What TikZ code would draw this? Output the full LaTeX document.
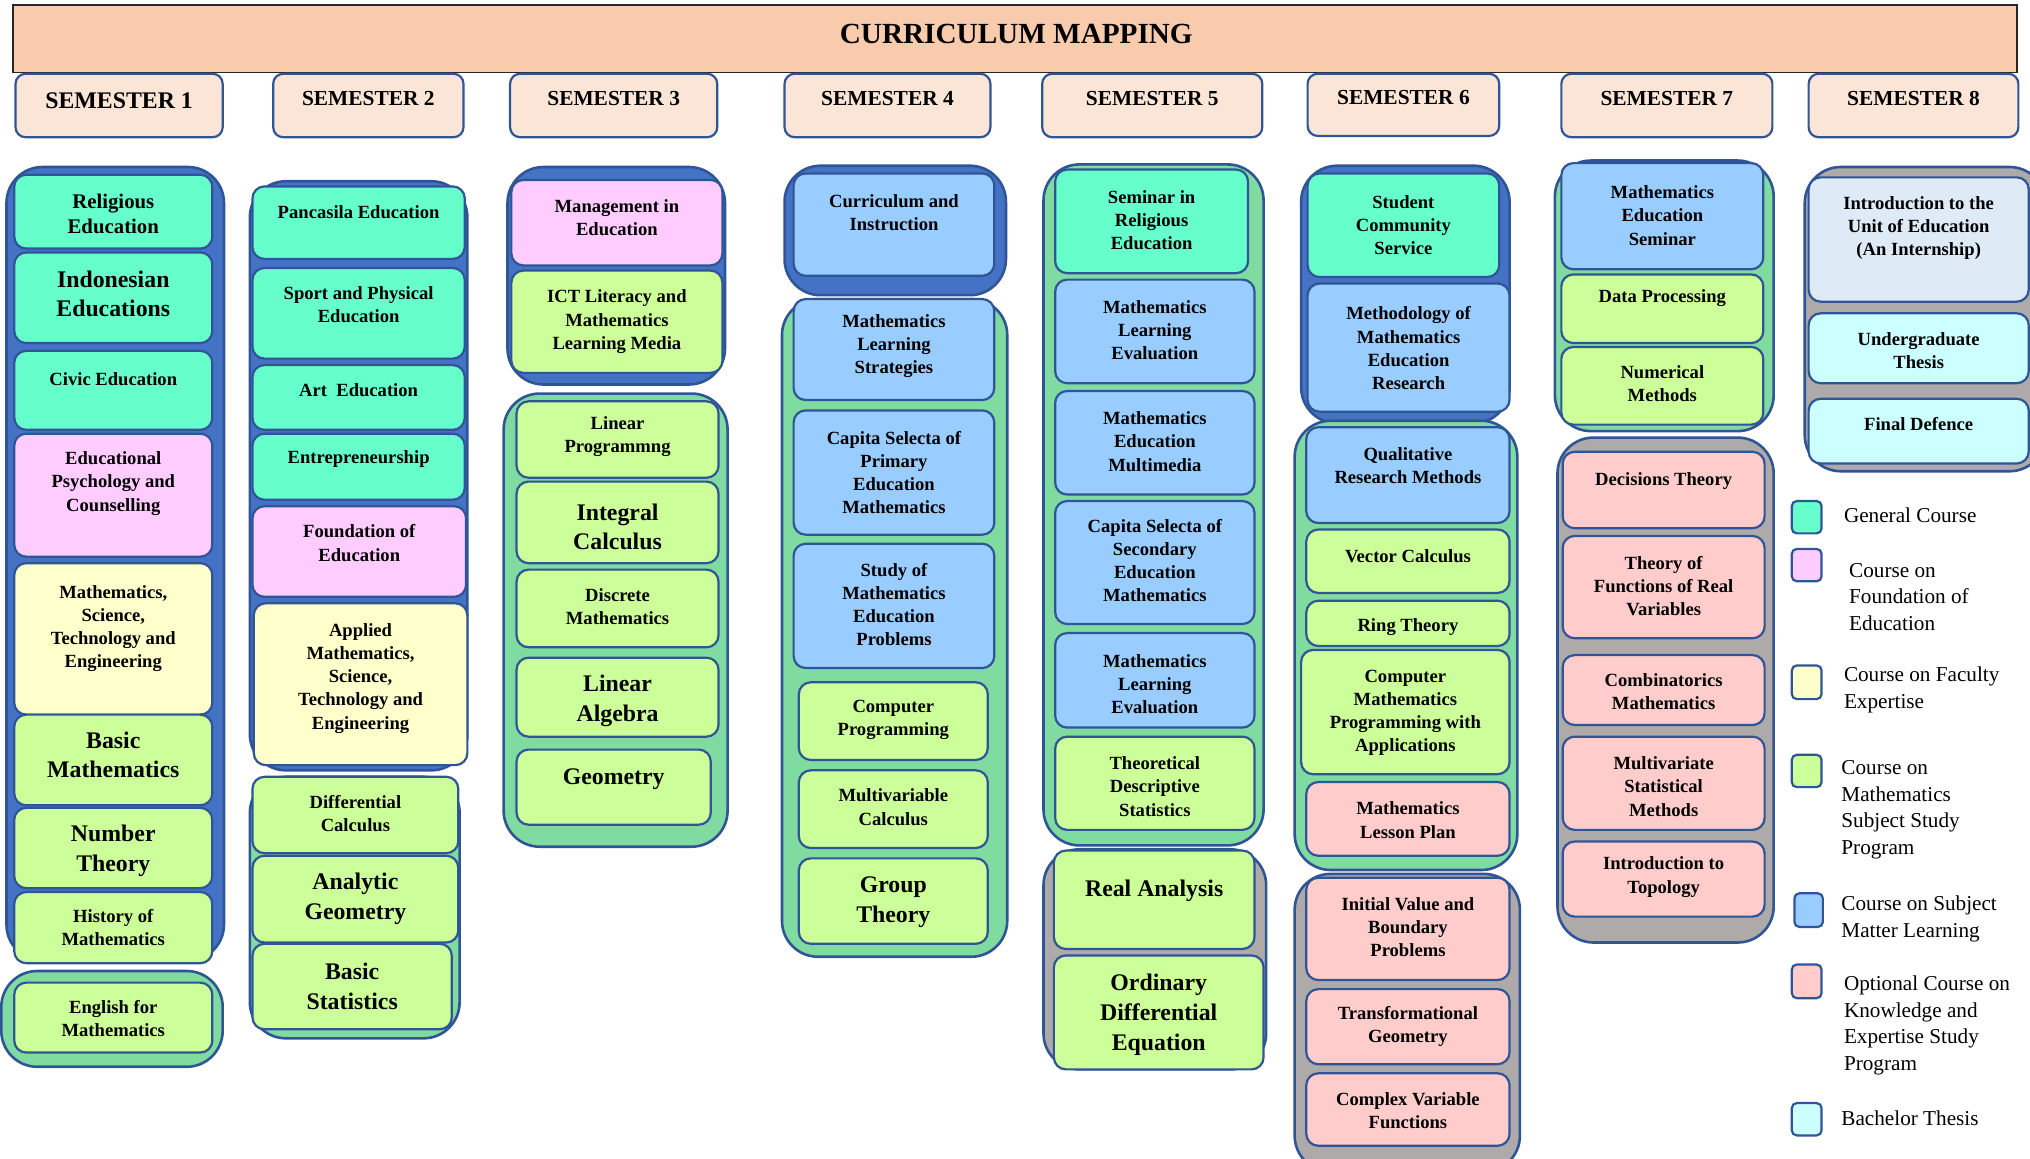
\documentclass[tikz,border=0pt]{standalone}
\usepackage{fontspec}
\setmainfont{Liberation Serif}
\usetikzlibrary{fit}
\definecolor{bord}{HTML}{2F5597}
\definecolor{cblue}{HTML}{4472C4}
\definecolor{cgreen}{HTML}{7FDBA0}
\definecolor{cgray}{HTML}{AEAAAA}
\definecolor{fteal}{HTML}{66FFCC}
\definecolor{fpink}{HTML}{FFCCFF}
\definecolor{fyel}{HTML}{FFFFCC}
\definecolor{fgrn}{HTML}{CCFF99}
\definecolor{fblu}{HTML}{99CCFF}
\definecolor{fsal}{HTML}{FFCCCC}
\definecolor{fcyan}{HTML}{CCFFFF}
\definecolor{fint}{HTML}{DEEBF7}
\definecolor{ftitle}{HTML}{F8CBAD}
\definecolor{fsem}{HTML}{FBE5D6}
\tikzset{
  grp/.style={draw=bord, line width=1.3pt, rounded corners=18pt, inner sep=0pt},
  crsbox/.style={draw=bord, line width=1.1pt, rounded corners=6pt, inner sep=0pt},
  ts/.style={font=\bfseries\fontsize{9.3}{11.6}\selectfont, align=center, inner sep=0pt},
  tm/.style={font=\bfseries\fontsize{10.4}{12.3}\selectfont, align=center, inner sep=0pt},
  tl/.style={font=\bfseries\fontsize{11.9}{14.9}\selectfont, align=center, inner sep=0pt},
  sem/.style={draw=bord, line width=1.1pt, rounded corners=5pt, fill=fsem, inner sep=0pt},
  semtxt/.style={font=\bfseries\fontsize{10.7}{12}\selectfont, inner sep=0pt},
  legsq/.style={draw=bord, line width=1.1pt, rounded corners=2.5pt, inner sep=0pt},
  legtxt/.style={font=\fontsize{10.6}{13.3}\selectfont, align=left, anchor=west, inner sep=0pt},
}
\newcommand\crs[9][ts]{%
  \node[crsbox, fill=#7, fit={(#3,#4) (#5,#6)}] (#2) {};
  \node[#1] (#2t) at ({(#3+#5)/2},#8) {#9};
}
\newcommand\grpbox[6]{%
  \node[grp, fill=#6, fit={(#2,#3) (#4,#5)}] (#1) {};
}
\newcommand\semh[7]{%
  \node[sem, fit={(#2,#3) (#4,#5)}] (#1) {};
  \node[semtxt] (#1t) at ({(#2+#4)/2},#6) {#7};
}
\begin{document}
\begin{tikzpicture}[x=0.6473pt, y=-0.6473pt]
\useasboundingbox (0,0) rectangle (1568,895);
% title
\node[draw=black!85, line width=0.8pt, fill=ftitle, inner sep=0pt, fit={(10,4) (1558,56)}] (title) {};
\node[font=\bfseries\fontsize{14.6}{16}\selectfont, inner sep=0pt] (titlet) at (785,26) {CURRICULUM MAPPING};
% semesters
\semh{s1}{12}{57}{172}{106}{78}{\fontsize{11.9}{13}\selectfont SEMESTER 1}
\semh{s2}{211}{57}{358}{106}{76}{SEMESTER 2}
\semh{s3}{394}{57}{554}{106}{76}{SEMESTER 3}
\semh{s4}{606}{57}{765}{106}{76}{SEMESTER 4}
\semh{s5}{805}{57}{975}{106}{76}{SEMESTER 5}
\semh{s6}{1010}{57}{1158}{105}{75}{SEMESTER 6}
\semh{s7}{1206}{57}{1369}{106}{76}{SEMESTER 7}
\semh{s8}{1397}{57}{1559}{106}{76}{SEMESTER 8}
% semester 1
\grpbox{g1a}{5}{129}{173}{742}{cblue}
\crs[tm]{c11}{11}{135}{164}{192}{fteal}{165}{Religious\\Education}
\crs[tl]{c12}{11}{195}{164}{265}{fteal}{227}{Indonesian\\Educations}
\crs{c13}{11}{271}{164}{332}{fteal}{292.5}{Civic Education}
\crs{c14}{11}{335}{164}{430}{fpink}{373.5}{Educational\\Psychology and\\Counselling}
\crs{c15}{11}{435}{164}{552}{fyel}{485.5}{Mathematics,\\Science,\\Technology and\\Engineering}
\crs[tl]{c16}{11}{552}{164}{622}{fgrn}{583}{Basic\\Mathematics}
\crs[tl]{c17}{11}{624}{164}{686}{fgrn}{657}{Number\\Theory}
\crs{c18}{11}{689}{164}{744}{fgrn}{716.5}{History of\\Mathematics}
\grpbox{g1b}{1}{750}{172}{824}{cgreen}
\crs{c19}{11}{759}{164}{813}{fgrn}{786.5}{English for\\Mathematics}
% semester 2
\grpbox{g2a}{193}{140}{361}{595}{cblue}
\crs{c21}{195}{144}{359}{200}{fteal}{163.5}{Pancasila Education}
\crs{c22}{195}{207}{359}{277}{fteal}{235.5}{Sport and Physical\\Education}
\crs{c23}{195}{282}{359}{332}{fteal}{301.5}{Art\ \ Education}
\crs{c24}{195}{335}{359}{386}{fteal}{354.5}{Entrepreneurship}
\crs{c25}{195}{391}{360}{461}{fpink}{419.5}{Foundation of\\Education}
\crs{c26}{196}{466}{361}{591}{fyel}{524}{Applied\\Mathematics,\\Science,\\Technology and\\Engineering}
\grpbox{g2b}{193}{600}{355}{802}{cgreen}
\crs{c27}{195}{600}{354}{659}{fgrn}{628.5}{Differential\\Calculus}
\crs[tl]{c28}{195}{661}{354}{728}{fgrn}{694}{Analytic\\Geometry}
\crs[tl]{c29}{195}{729}{349}{795}{fgrn}{762}{Basic\\Statistics}
% semester 3
\grpbox{g3a}{392}{129}{560}{297}{cblue}
\crs{c31}{395}{139}{558}{205}{fpink}{168}{Management in\\Education}
\crs{c32}{395}{209}{558}{288}{fgrn}{248.5}{ICT Literacy and\\Mathematics\\Learning Media}
\grpbox{g3b}{389}{304}{562}{654}{cgreen}
\crs{c33}{399}{310}{555}{369}{fgrn}{337.5}{Linear\\Programmng}
\crs[tl]{c34}{399}{372}{555}{435}{fgrn}{407}{Integral\\Calculus}
\crs{c35}{399}{440}{555}{500}{fgrn}{468.5}{Discrete\\Mathematics}
\crs[tl]{c36}{399}{508}{555}{569}{fgrn}{541.5}{Linear\\Algebra}
\crs[tl]{c37}{399}{579}{549}{637}{fgrn}{602}{Geometry}
% semester 4
\grpbox{g4a}{606}{128}{777}{228}{cblue}
\crs{c41}{613}{134}{768}{213}{fblu}{164.5}{Curriculum and\\Instruction}
\grpbox{g4b}{604}{231}{778}{739}{cgreen}
\crs{c42}{613}{231}{768}{309}{fblu}{267.5}{Mathematics\\Learning\\Strategies}
\crs{c43}{613}{317}{768}{413}{fblu}{365}{Capita Selecta of\\Primary\\Education\\Mathematics}
\crs{c44}{613}{420}{768}{516}{fblu}{467}{Study of\\Mathematics\\Education\\Problems}
\crs{c45}{617}{527}{763}{587}{fgrn}{556}{Computer\\Programming}
\crs{c46}{617}{595}{763}{655}{fgrn}{623.5}{Multivariable\\Calculus}
\crs[tl]{c47}{617}{663}{763}{729}{fgrn}{697}{Group\\Theory}
% semester 5
\grpbox{g5a}{806}{127}{976}{653}{cgreen}
\crs{c51}{815}{131}{964}{211}{fteal}{170}{Seminar in\\Religious\\Education}
\crs{c52}{815}{216}{969}{296}{fblu}{255}{Mathematics\\Learning\\Evaluation}
\crs{c53}{815}{302}{969}{382}{fblu}{341}{Mathematics\\Education\\Multimedia}
\crs{c54}{815}{387}{969}{482}{fblu}{433}{Capita Selecta of\\Secondary\\Education\\Mathematics}
\crs{c55}{815}{489}{969}{562}{fblu}{528.5}{Mathematics\\Learning\\Evaluation}
\crs{c56}{815}{569}{969}{641}{fgrn}{607.5}{Theoretical\\Descriptive\\Statistics}
\grpbox{g5b}{806}{656}{978}{826}{cgray}
\crs[tl]{c57}{814}{657}{969}{733}{fgrn}{688}{Real Analysis}
\crs[tl]{c58}{814}{738}{976}{826}{fgrn}{784}{Ordinary\\Differential\\Equation}
% semester 6
\grpbox{g6a}{1005}{128}{1166}{327}{cblue}
\crs{c61}{1010}{134}{1158}{214}{fteal}{174}{Student\\Community\\Service}
\crs{c62}{1010}{219}{1166}{318}{fblu}{269}{Methodology of\\Mathematics\\Education\\Research}
\grpbox{g6b}{1000}{325}{1172}{672}{cgreen}
\crs{c63}{1009}{330}{1166}{404}{fblu}{359.5}{Qualitative\\Research Methods}
\crs{c64}{1009}{409}{1166}{458}{fgrn}{429.5}{Vector Calculus}
\crs{c65}{1009}{464}{1166}{499}{fgrn}{484.5}{Ring Theory}
\crs{c66}{1005}{502}{1166}{598}{fgrn}{550.5}{Computer\\Mathematics\\Programming with\\Applications}
\crs{c67}{1009}{604}{1166}{661}{fsal}{633.5}{Mathematics\\Lesson Plan}
\grpbox{g6c}{1000}{675}{1174}{905}{cgray}
\crs{c68}{1009}{678}{1166}{757}{fsal}{716}{Initial Value and\\Boundary\\Problems}
\crs{c69}{1009}{764}{1166}{822}{fsal}{793}{Transformational\\Geometry}
\crs{c6A}{1009}{829}{1166}{885}{fsal}{858}{Complex Variable\\Functions}
% semester 7
\grpbox{g7a}{1201}{124}{1370}{333}{cgreen}
\crs{c71}{1206}{126}{1362}{208}{fblu}{166.5}{Mathematics\\Education\\Seminar}
\crs{c72}{1206}{212}{1362}{265}{fgrn}{230.5}{Data Processing}
\crs{c73}{1206}{268}{1362}{328}{fgrn}{296.5}{Numerical\\Methods}
\grpbox{g7b}{1203}{338}{1370}{728}{cgray}
\crs{c74}{1207}{349}{1363}{408}{fsal}{371.5}{Decisions Theory}
\crs{c75}{1207}{414}{1363}{493}{fsal}{452.5}{Theory of\\Functions of Real\\Variables}
\crs{c76}{1207}{506}{1363}{560}{fsal}{534.5}{Combinatorics\\Mathematics}
\crs{c77}{1207}{569}{1363}{641}{fsal}{607.5}{Multivariate\\Statistical\\Methods}
\crs{c78}{1207}{650}{1363}{708}{fsal}{677.5}{Introduction to\\Topology}
% semester 8
\grpbox{g8}{1394}{129}{1580}{364}{cgray}
\crs{c81}{1397}{137}{1567}{233}{fint}{176}{Introduction to the\\Unit of Education\\(An Internship)}
\crs{c82}{1397}{242}{1567}{296}{fcyan}{271}{Undergraduate\\Thesis}
\crs{c83}{1397}{308}{1567}{358}{fcyan}{327.5}{Final Defence}
% legend
\node[legsq, fill=fteal, fit={(1384,387) (1407,412)}] (l1) {};
\node[legtxt] (l1t) at (1424,398) {General Course};
\node[legsq, fill=fpink, fit={(1384,424) (1407,449)}] (l2) {};
\node[legtxt] (l2t) at (1428,461) {Course on\\Foundation of\\Education};
\node[legsq, fill=fyel, fit={(1384,514) (1407,540)}] (l3) {};
\node[legtxt] (l3t) at (1424,533) {Course on Faculty\\Expertise};
\node[legsq, fill=fgrn, fit={(1384,583) (1407,608)}] (l4) {};
\node[legtxt] (l4t) at (1422,625.5) {Course on\\Mathematics\\Subject Study\\Program};
\node[legsq, fill=fblu, fit={(1386,690) (1408,716)}] (l5) {};
\node[legtxt] (l5t) at (1422,710) {Course on Subject\\Matter Learning};
\node[legsq, fill=fsal, fit={(1384,745) (1407,771)}] (l6) {};
\node[legtxt] (l6t) at (1424,792) {Optional Course on\\Knowledge and\\Expertise Study\\Program};
\node[legsq, fill=fcyan, fit={(1384,852) (1407,877)}] (l7) {};
\node[legtxt] (l7t) at (1422,864) {Bachelor Thesis};
\end{tikzpicture}
\end{document}
